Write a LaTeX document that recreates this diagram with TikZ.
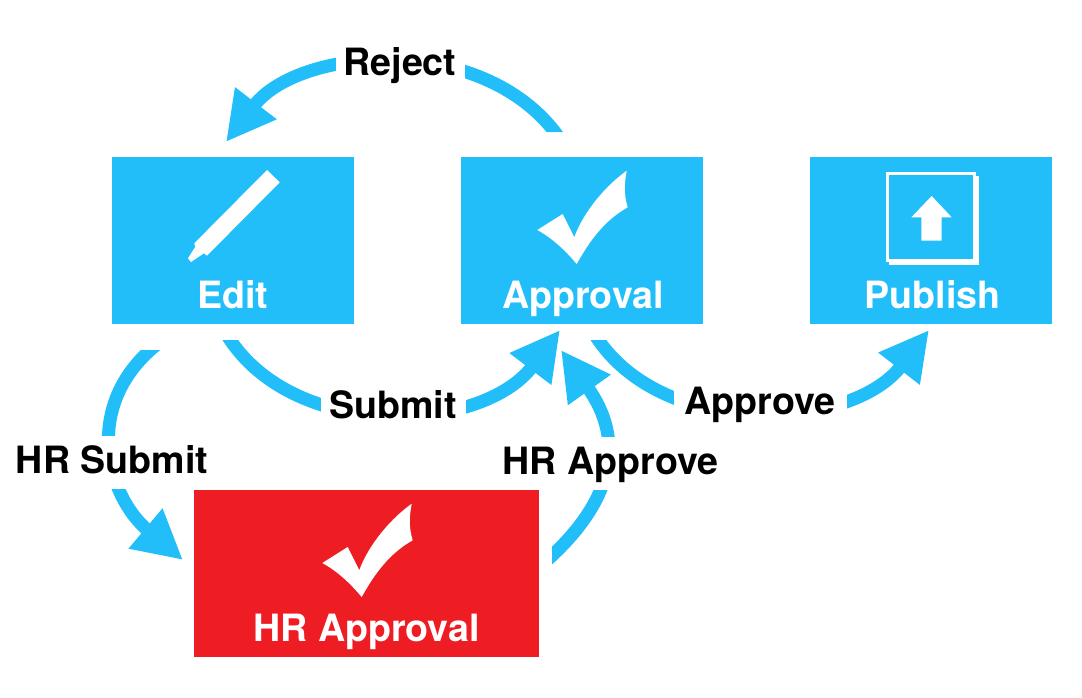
\documentclass[tikz,border=0pt]{standalone}
\usepackage{fontspec}
\setmainfont{TeX Gyre Heros}
\usetikzlibrary{arrows.meta}
\definecolor{flowblue}{HTML}{22BEF9}
\definecolor{hrred}{HTML}{EE1D24}
\tikzset{
  flow/.style={draw=flowblue,line width=13pt,-{Stealth[length=49pt,width=49pt,inset=0pt,fill=flowblue]}},
  box/.style={rectangle,draw=none,fill=flowblue,minimum width=242pt,minimum height=167pt,inner sep=0pt},
  redbox/.style={box,fill=hrred,minimum width=345pt},
  title/.style={anchor=base,inner sep=0pt,text=white,font=\fontsize{37.6}{40}\bfseries\selectfont},
  flowlabel/.style={anchor=base,inner sep=0pt,fill=white,text=black,text height=37pt,text depth=16pt,font=\fontsize{37.6}{40}\bfseries\selectfont},
  iconwhite/.style={fill=white,draw=none},
  pics/checkmark/.style={code={
    \fill[iconwhite] (574.3,237.3) .. controls (581,218) and (600,190) .. (626.7,170.7)
      .. controls (624,185) and (624,195) .. (627.7,207.3)
      .. controls (605,220) and (590,240) .. (576.7,264)
      .. controls (565,250) and (552,238) .. (537.3,230)
      -- (562.7,214) -- cycle;
  }}
}
\begin{document}
\begin{tikzpicture}[x=1pt,y=-1pt]
\useasboundingbox (0,0) rectangle (1082,697);
% free ends of the connectors
\coordinate (rejS) at (562,142);
\coordinate (rejE) at (226,142);
\coordinate (subS) at (224,330);
\coordinate (subE) at (560,330);
\coordinate (appS) at (592,330);
\coordinate (appE) at (929,330);
\coordinate (hrsS) at (160,342);
\coordinate (hrsE) at (183,560);
\coordinate (hraS) at (545,562);
\coordinate (hraE) at (561,350);
% connectors
\begin{scope}
  \clip (200,0) -- (600,0) -- (600,132) -- (400,132) -- (200,170) -- cycle;
  \draw[flow] (rejS) .. controls (489,31) and (300,46) .. (rejE);
\end{scope}
\begin{scope}
  \clip (200,340) -- (300,340) -- (500,320) -- (600,320) -- (600,450) -- (200,450) -- cycle;
  \draw[flow] (subS) .. controls (288,443) and (481,434) .. (subE);
\end{scope}
\begin{scope}
  \clip (580,340) -- (700,340) -- (900,320) -- (950,320) -- (950,450) -- (580,450) -- cycle;
  \draw[flow] (appS) .. controls (656,441) and (850,432) .. (appE);
\end{scope}
\begin{scope}
  \clip (0,350) rectangle (300,600);
  \draw[flow] (hrsS) .. controls (80,403) and (107,496) .. (hrsE);
\end{scope}
\begin{scope}
  \clip (552,300) rectangle (700,600);
  \draw[flow] (hraS) .. controls (615,500) and (625,440) .. (hraE);
\end{scope}
% connector labels
\node[flowlabel,minimum width=129pt] (lreject) at (400,75) {Reject};
\node[flowlabel,minimum width=145pt] (lsubmit) at (393,418) {Submit};
\node[flowlabel,minimum width=173pt] (lapprove) at (760,414.5) {Approve};
\node[flowlabel,minimum width=200pt] (lhrsubmit) at (112,473) {HR Submit};
\node[flowlabel,minimum width=225pt] (lhrapprove) at (610.5,474) {HR Approve};
% boxes
\node[box] (edit) at (233,240.5) {};
\node[box] (approval) at (582,240.5) {};
\node[box] (publish) at (931,240.5) {};
\node[redbox] (hr) at (366.5,573.5) {};
\node[title] (tedit) at (233,308.5) {Edit};
\node[title] (tapproval) at (583,308.5) {Approval};
\node[title] (tpublish) at (932.5,308.5) {Publish};
\node[title] (thr) at (366.5,641) {HR Approval};
% pen
\fill[iconwhite] (267,170) -- (279.7,182.3) -- (207,255.7) -- (204,253.3) -- (191,262) -- (188,258.3) -- (195.3,246.7) -- (194.3,243.3) -- cycle;
% checks
\pic at (0,0) {checkmark};
\pic at (-215,333) {checkmark};
% publish icon
\fill[iconwhite] (889,176) rectangle (979,265);
\fill[iconwhite] (886,172) rectangle (976,261.7);
\fill[flowblue] (889.3,175) rectangle (973,258.7);
\fill[iconwhite] (931.7,196) -- (951.7,217.3) -- (941.7,217.3) -- (941.7,240.7) -- (921.3,240.7) -- (921.3,217.3) -- (911.3,217.3) -- cycle;
\end{tikzpicture}
\end{document}
